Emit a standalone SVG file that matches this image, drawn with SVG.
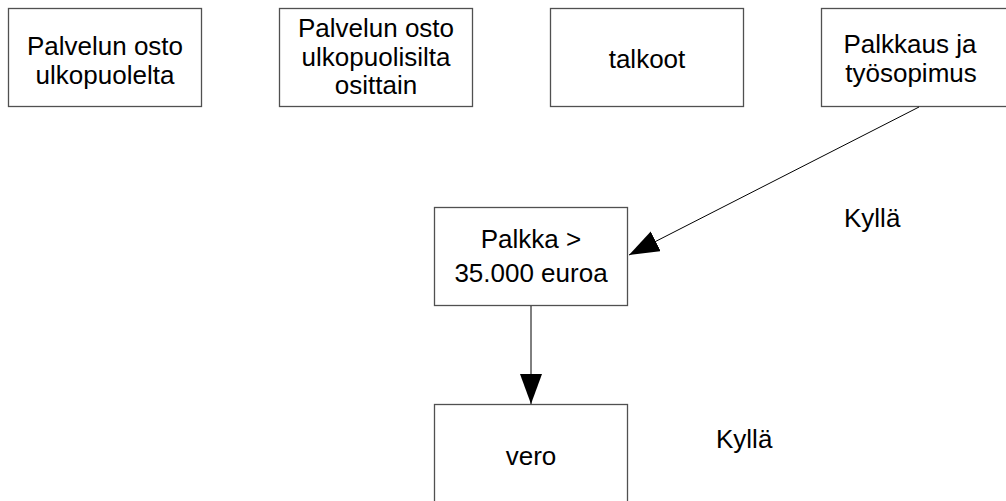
<svg xmlns="http://www.w3.org/2000/svg" width="1006" height="501" viewBox="0 0 1006 501">
  <style>
    .box { fill: #ffffff; stroke: #505050; stroke-width: 1.3; }
    .lbl { font-family: "Liberation Sans", Arial, sans-serif; font-size: 26px; fill: #000000; text-anchor: middle; }
    .note { font-family: "Liberation Sans", Arial, sans-serif; font-size: 26px; fill: #000000; }
    .edge { fill: none; stroke: #000000; stroke-width: 1; }
  </style>
  <defs>
    <marker id="arrow" markerUnits="userSpaceOnUse" markerWidth="31" markerHeight="23" refX="30" refY="11" orient="auto">
      <path d="M0 0 L30 11 L0 22 z" fill="#000000"/>
    </marker>
  </defs>
  <rect width="1006" height="501" fill="#ffffff"/>

  <g id="node-palvelun-osto">
    <rect class="box" x="8.5" y="8.5" width="193" height="98"/>
    <text class="lbl" x="105" y="55">Palvelun osto</text>
    <text class="lbl" x="105" y="84">ulkopuolelta</text>
  </g>

  <g id="node-palvelun-osto-osittain">
    <rect class="box" x="279.5" y="8.5" width="193" height="98"/>
    <text class="lbl" x="376" y="37">Palvelun osto</text>
    <text class="lbl" x="376" y="66">ulkopuolisilta</text>
    <text class="lbl" x="376" y="94">osittain</text>
  </g>

  <g id="node-talkoot">
    <rect class="box" x="550.5" y="8.5" width="193" height="98"/>
    <text class="lbl" x="647" y="68">talkoot</text>
  </g>

  <g id="node-palkkaus">
    <rect class="box" x="821.5" y="8.5" width="193" height="98"/>
    <text class="lbl" x="910" y="53">Palkkaus ja</text>
    <text class="lbl" x="911" y="82">työsopimus</text>
  </g>

  <g id="node-palkka">
    <rect class="box" x="434.5" y="207.5" width="193" height="98"/>
    <text class="lbl" x="531" y="248">Palkka &gt;</text>
    <text class="lbl" x="531" y="282">35.000 euroa</text>
  </g>

  <g id="node-vero">
    <rect class="box" x="434.5" y="404.5" width="193" height="100"/>
    <text class="lbl" x="531" y="465">vero</text>
  </g>

  <g id="labels">
    <text class="note" x="844" y="227">Kyllä</text>
    <text class="note" x="716" y="448">Kyllä</text>
  </g>

  <g id="connectors">
    <line class="edge" x1="919" y1="107" x2="629" y2="255" marker-end="url(#arrow)"/>
    <line class="edge" x1="531" y1="306" x2="531" y2="404" stroke="#505050" marker-end="url(#arrow)"/>
  </g>
</svg>
